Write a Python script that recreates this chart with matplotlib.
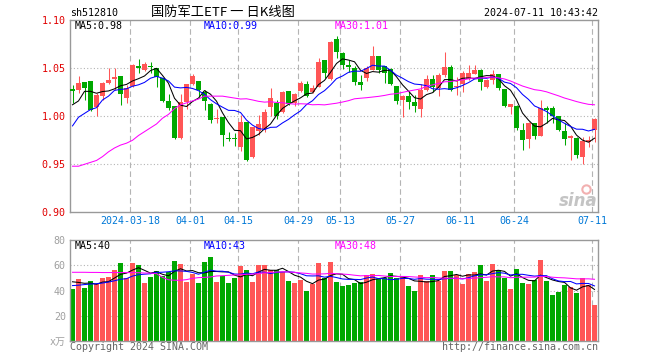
import numpy as np
import pandas as pd
import matplotlib
matplotlib.use("Agg")
from matplotlib import pyplot as plt

# daily candles 2024-03-04 .. 2024-07-11 (88 trading days)
opens = [1.028, 1.027, 1.036, 1.037, 1.010, 1.021, 1.035, 1.039, 1.042, 1.019,
         1.032, 1.052, 1.048, 1.052, 1.050, 1.040, 1.016, 1.011, 0.977, 1.015,
         1.034, 1.037, 1.025, 1.013, 0.997, 0.999, 0.977, 0.977, 0.968, 0.994,
         0.958, 0.985, 0.987, 1.010, 1.014, 1.004, 1.026, 1.014, 1.026, 1.034,
         1.025, 1.031, 1.059, 1.039, 1.081, 1.066, 1.053, 1.050, 1.036, 1.040,
         1.048, 1.063, 1.052, 1.049, 1.032, 1.017, 1.021, 1.015, 1.008, 1.027,
         1.039, 1.029, 1.043, 1.051, 1.031, 1.034, 1.039, 1.044, 1.048, 1.031,
         1.038, 1.044, 1.028, 1.010, 1.011, 0.986, 0.976, 0.993, 0.980, 1.009,
         1.009, 1.000, 0.985, 0.977, 0.977, 0.958, 0.973, 0.986]
highs = [1.033, 1.042, 1.036, 1.037, 1.024, 1.036, 1.050, 1.050, 1.042, 1.033,
         1.054, 1.060, 1.057, 1.057, 1.050, 1.040, 1.023, 1.011, 1.023, 1.034,
         1.044, 1.037, 1.027, 1.014, 1.008, 0.999, 0.984, 0.983, 1.001, 0.994,
         0.989, 1.001, 1.008, 1.029, 1.017, 1.026, 1.026, 1.024, 1.037, 1.037,
         1.033, 1.061, 1.059, 1.078, 1.084, 1.067, 1.059, 1.052, 1.043, 1.052,
         1.073, 1.063, 1.052, 1.050, 1.032, 1.022, 1.026, 1.022, 1.034, 1.043,
         1.043, 1.045, 1.067, 1.053, 1.041, 1.047, 1.053, 1.053, 1.049, 1.039,
         1.048, 1.044, 1.028, 1.013, 1.012, 0.993, 0.994, 0.993, 1.017, 1.011,
         1.011, 1.000, 0.993, 0.981, 0.978, 0.978, 0.979, 0.998]
lows = [1.014, 1.024, 1.017, 1.006, 1.000, 1.017, 1.034, 1.027, 1.012, 1.014,
        1.031, 1.045, 1.047, 1.045, 1.031, 1.015, 1.007, 0.976, 0.976, 1.008,
        1.033, 1.020, 1.007, 0.993, 0.993, 0.969, 0.974, 0.969, 0.964, 0.953,
        0.957, 0.981, 0.984, 1.000, 0.997, 1.003, 1.012, 1.011, 1.025, 1.020,
        1.024, 1.031, 1.040, 1.038, 1.061, 1.049, 1.046, 1.033, 1.027, 1.037,
        1.048, 1.045, 1.035, 1.033, 1.013, 0.999, 1.008, 1.004, 0.999, 1.026,
        1.025, 1.021, 1.041, 1.026, 1.022, 1.025, 1.038, 1.044, 1.027, 1.030,
        1.034, 1.027, 1.010, 1.002, 0.986, 0.965, 0.967, 0.976, 0.979, 0.993,
        0.993, 0.985, 0.970, 0.955, 0.957, 0.950, 0.968, 0.973]
closes = [1.026, 1.035, 1.030, 1.007, 1.022, 1.035, 1.038, 1.041, 1.023, 1.029,
          1.053, 1.050, 1.055, 1.051, 1.041, 1.016, 1.009, 0.977, 1.015, 1.034,
          1.042, 1.027, 1.016, 0.996, 0.998, 0.981, 0.976, 0.976, 0.994, 0.955,
          0.989, 0.992, 1.005, 1.019, 1.000, 1.025, 1.013, 1.023, 1.035, 1.021,
          1.029, 1.057, 1.045, 1.077, 1.067, 1.053, 1.051, 1.036, 1.033, 1.050,
          1.063, 1.048, 1.045, 1.034, 1.016, 1.021, 1.015, 1.011, 1.027, 1.039,
          1.031, 1.043, 1.051, 1.027, 1.032, 1.045, 1.045, 1.048, 1.036, 1.038,
          1.044, 1.030, 1.011, 1.013, 0.988, 0.975, 0.993, 0.980, 1.009, 1.007,
          1.000, 0.986, 0.976, 0.980, 0.960, 0.974, 0.975, 0.997]
# volume, unit 万
volumes = [41.5, 49.2, 42.0, 47.3, 45.2, 50.2, 50.8, 56.3, 61.9, 50.2,
           61.9, 60.3, 46.0, 50.8, 55.6, 51.8, 54.5, 63.5, 61.1, 46.8,
           53.4, 46.1, 62.6, 66.6, 47.1, 51.8, 46.1, 49.7, 59.7, 56.3,
           47.1, 60.5, 60.5, 56.1, 56.3, 55.0, 47.6, 46.1, 48.4, 40.0,
           45.5, 61.8, 49.7, 62.6, 46.8, 43.7, 44.5, 46.1, 46.6, 52.4,
           53.4, 48.9, 50.0, 53.9, 50.3, 50.8, 43.7, 39.7, 52.4, 47.6,
           52.4, 47.9, 55.5, 55.5, 52.6, 45.5, 53.2, 54.7, 60.3, 47.9,
           61.3, 56.3, 50.3, 41.6, 57.4, 46.1, 45.3, 48.2, 64.5, 47.4,
           36.8, 39.2, 44.7, 42.9, 38.2, 50.0, 44.7, 28.9]

# moving averages at the start of the window depend on earlier days ->
ma5_head = [1.012, 1.016, 1.026, 1.026]
ma10_head = [0.990, 0.999, 1.003, 1.007, 1.009, 1.017, 1.021, 1.027, 1.028]
ma30_head = [0.948, 0.948, 0.950, 0.952, 0.954, 0.958, 0.963, 0.967, 0.970, 0.972,
             0.975, 0.980, 0.984, 0.988, 0.992, 0.998, 1.002, 1.008, 1.012, 1.014,
             1.016, 1.018, 1.021, 1.021, 1.021, 1.021, 1.020, 1.019, 1.018]
vma5_head = [47.0, 46.5, 45.8, 46.0]
vma10_head = [44.0, 44.3, 44.8, 45.2, 45.5, 46.0, 46.8, 47.8, 49.0]
vma30_head = [54.5, 54.5, 54.5, 54.4, 54.4, 54.3, 54.3, 54.3, 54.3, 54.3,
              54.2, 54.2, 53.9, 53.9, 53.4, 50.5, 48.6, 48.2, 48.2, 48.7,
              49.7, 50.3, 50.5, 50.8, 51.6, 51.8, 52.1, 52.4, 52.6]

tick_idx = [10, 20, 28, 38, 45, 55, 65, 74, 87]
tick_labels = ["2024-03-18", "04-01", "04-15", "04-29", "05-13",
               "05-27", "06-11", "06-24", "07-11"]


def moving_avg(values, n, head):
    s = pd.Series(values).rolling(n).mean()
    s.iloc[:len(head)] = head
    return s.values


RED = "#ff5656"
GREEN = "#00a800"
GRID = "#b4b4b4"
FRAME = "#999999"
MONO = ["DejaVu Sans Mono", "Noto Sans CJK SC"]
FS = 7.2

plt.rcParams["font.family"] = MONO

fig = plt.figure(figsize=(6.6, 3.6), dpi=100)
W, H = 660, 360


def rect(x0, y0, x1, y1):
    return [x0 / W, 1 - y1 / H, (x1 - x0) / W, (y1 - y0) / H]


def ftext(x, y, s, **kw):
    fig.text(x / W, 1 - y / H, s, va="center", fontsize=FS, **kw)


o = np.array(opens)
c = np.array(closes)
x = np.arange(len(c))
cols = np.where(c >= o, RED, GREEN)
xmin, xmax = -0.4167, len(c) - 0.4167
grid_x = [i - 0.4167 for i in tick_idx]

# ---------- price panel
ax = fig.add_axes(rect(70, 20.3, 598, 212.3))
ax.set_xlim(xmin, xmax)
ax.set_ylim(0.90, 1.10)
for g in grid_x:
    ax.axvline(g, color=GRID, lw=0.8, ls=(0, (5, 3)), zorder=0)
for v in [0.95, 1.00, 1.05]:
    ax.axhline(v, color=GRID, lw=0.8, ls=(0, (1, 2)), zorder=0)

ax.vlines(x, lows, highs, colors=cols, lw=0.75, zorder=2)
body_h = np.maximum(np.abs(c - o), 0.001)
ax.bar(x, body_h, bottom=np.minimum(o, c), width=0.83, color=cols,
       linewidth=0, zorder=3, antialiased=False)

ax.plot(x, moving_avg(closes, 5, ma5_head), color="black", lw=0.75, zorder=4)
ax.plot(x, moving_avg(closes, 10, ma10_head), color="#0000ff", lw=0.75, zorder=4)
ax.plot(x, moving_avg(closes, 30, ma30_head), color="#ff00ff", lw=0.75, zorder=4)

ax.set_yticks([0.90, 0.95, 1.00, 1.05, 1.10])
ax.set_yticklabels(["0.90", "0.95", "1.00", "1.05", "1.10"], fontsize=FS, color="#e00000")
ax.set_xticks(grid_x)
ax.set_xticklabels(tick_labels, fontsize=FS, color="#0078d7")
ax.tick_params(length=0, pad=3)
for sp in ax.spines.values():
    sp.set_color(FRAME)
    sp.set_linewidth(1.0)

# sina watermark
ax.text(87.5, 0.912, "sina", ha="right", va="center", fontsize=12, style="italic",
        fontweight="bold", color="#c4c4c4", family="DejaVu Sans", zorder=1)
ax.plot([85.6], [0.924], marker="o", ms=6, mfc="none", mec="#f2b0b0", mew=1.5, zorder=1)

# ---------- volume panel
av = fig.add_axes(rect(70, 240, 598, 341.3))
av.set_xlim(xmin, xmax)
av.set_ylim(0, 80)
for g in grid_x:
    av.axvline(g, color=GRID, lw=0.8, ls=(0, (5, 3)), zorder=0)
for v in [20, 40, 60]:
    av.axhline(v, color=GRID, lw=0.8, ls=(0, (1, 2)), zorder=0)
av.bar(x, volumes, width=0.83, color=cols, linewidth=0, zorder=2, antialiased=False)
av.plot(x, moving_avg(volumes, 5, vma5_head), color="black", lw=0.75, zorder=3)
av.plot(x, moving_avg(volumes, 10, vma10_head), color="#0000ff", lw=0.75, zorder=3)
av.plot(x, moving_avg(volumes, 30, vma30_head), color="#ff00ff", lw=0.75, zorder=3)
av.set_yticks([0, 20, 40, 60, 80])
av.set_yticklabels(["x万", "20", "40", "60", "80"], fontsize=FS, color="#a0a0a0")
av.set_xticks([])
av.tick_params(length=0, pad=3)
for sp in av.spines.values():
    sp.set_color(FRAME)
    sp.set_linewidth(1.0)

# ---------- texts
ftext(70, 13, "sh512810", ha="left", color="black")
fig.text(223 / W, 1 - 12.5 / H, "国防军工ETF 一 日K线图", ha="center", va="center",
         fontsize=9.5, family=["Noto Sans CJK SC", "DejaVu Sans"], color="black")
ftext(598, 13, "2024-07-11 10:43:42", ha="right", color="black")

ftext(75, 26, "MA5:0.98", ha="left", color="black")
ftext(204, 26, "MA10:0.99", ha="left", color="#0000ff")
ftext(335, 26, "MA30:1.01", ha="left", color="#ff00ff")

ftext(75, 246, "MA5:40", ha="left", color="black")
ftext(204, 246, "MA10:43", ha="left", color="#0000ff")
ftext(335, 246, "MA30:48", ha="left", color="#ff00ff")

ftext(70, 347, "Copyright 2024 SINA.COM", ha="left", color="#666666")
ftext(598, 347, "http://finance.sina.com.cn", ha="right", color="#666666")

fig.savefig("out.png", dpi=100)
